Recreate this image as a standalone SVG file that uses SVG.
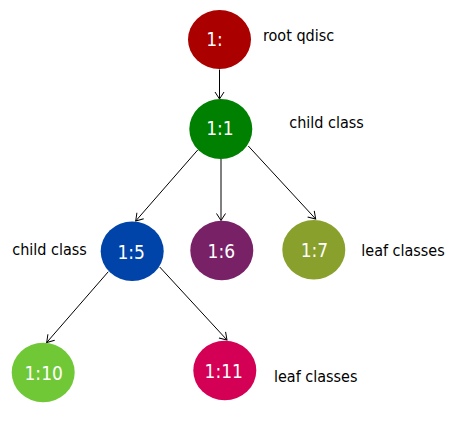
<svg xmlns="http://www.w3.org/2000/svg" width="454" height="423" viewBox="0 0 454 423">
<style>
.node text{font-family:"DejaVu Sans Condensed","DejaVu Sans",sans-serif;font-stretch:condensed;font-size:19px;fill:#fff;text-anchor:middle}
.lbl{font-family:"DejaVu Sans Condensed","DejaVu Sans",sans-serif;font-stretch:condensed;font-size:16px;fill:#000}
.edge{stroke:#000;stroke-width:1;fill:none;marker-end:url(#arr)}
</style>
<defs>
<marker id="arr" markerUnits="userSpaceOnUse" markerWidth="12" markerHeight="12" viewBox="-10 -6 12 12" refX="0" refY="0" orient="auto">
<path d="M-7,-4.5 L0,0 L-7,4.5" fill="none" stroke="#000" stroke-width="1"/>
</marker>
</defs>
<rect width="454" height="423" fill="#fff"/>
<g id="connectors">
<line class="edge" x1="219.5" y1="69.5" x2="219.5" y2="99"/>
<line class="edge" x1="197.7" y1="150" x2="135.7" y2="221"/>
<line class="edge" x1="221" y1="159" x2="221" y2="220.5"/>
<line class="edge" x1="248.3" y1="146" x2="315.7" y2="219"/>
<line class="edge" x1="108.3" y1="271.7" x2="46.7" y2="342.5"/>
<line class="edge" x1="159.7" y1="267" x2="227" y2="340"/>
</g>
<g id="node-root" class="node"><ellipse cx="219.5" cy="39.5" rx="31.5" ry="29.5" fill="#aa0000"/><text x="214.5" y="46">1:</text></g>
<g id="node-1-1" class="node"><ellipse cx="220.8" cy="129" rx="31.5" ry="30" fill="#008000"/><text x="220" y="135">1:1</text></g>
<g id="node-1-5" class="node"><ellipse cx="132.2" cy="251.3" rx="31.5" ry="29.7" fill="#0044aa"/><text x="131.2" y="258.5">1:5</text></g>
<g id="node-1-6" class="node"><ellipse cx="221.8" cy="250.5" rx="31.5" ry="29.8" fill="#782167"/><text x="221.3" y="258">1:6</text></g>
<g id="node-1-7" class="node"><ellipse cx="313.8" cy="249.7" rx="31.5" ry="29.7" fill="#89a02c"/><text x="314.5" y="257.3">1:7</text></g>
<g id="node-1-10" class="node"><ellipse cx="43.2" cy="372.5" rx="31.5" ry="29.8" fill="#71c837"/><text x="43.7" y="380">1:10</text></g>
<g id="node-1-11" class="node"><ellipse cx="224.8" cy="370.5" rx="31.5" ry="29.8" fill="#d40055"/><text x="223.8" y="378.3">1:11</text></g>
<g id="labels">
<text class="lbl" x="263" y="41">root qdisc</text>
<text class="lbl" x="289.3" y="128.3">child class</text>
<text class="lbl" x="12.3" y="255">child class</text>
<text class="lbl" x="361.3" y="256">leaf classes</text>
<text class="lbl" x="274" y="382.3">leaf classes</text>
</g>
</svg>
